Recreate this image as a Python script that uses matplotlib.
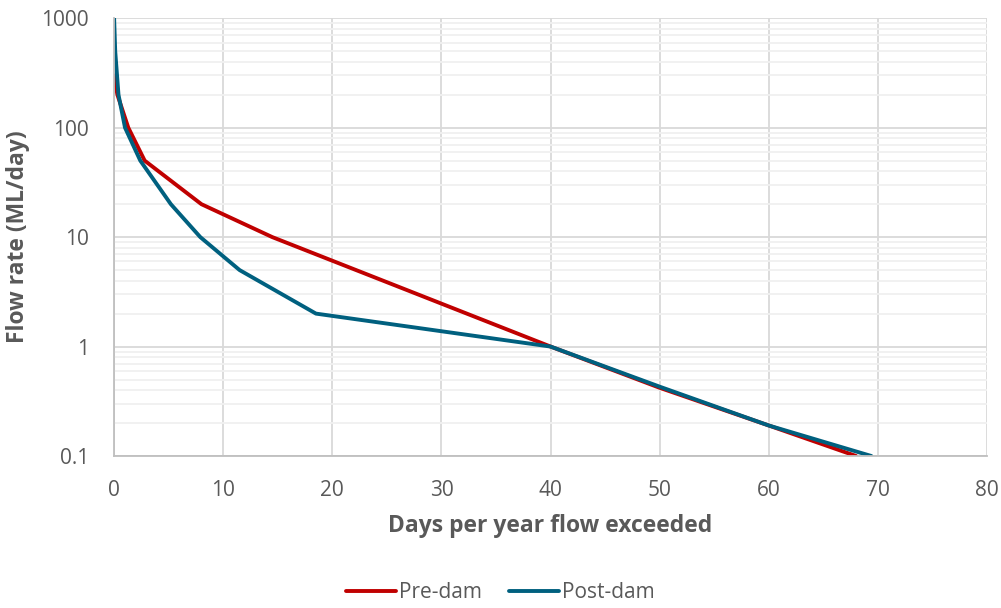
import matplotlib.pyplot as plt
from matplotlib.ticker import FixedLocator, NullFormatter

# Flow duration curves (days per year exceeded vs flow rate ML/day)
pre_days = [0.0, 0.3, 1.3, 2.8, 8.0, 14.5, 40.0, 50.0, 60.0, 68.0]
pre_flow = [300, 200, 100, 50, 20, 10, 1.0, 0.42, 0.19, 0.1]

post_days = [0.0, 0.1, 0.4, 1.0, 2.4, 5.2, 7.9, 11.5, 18.5, 40.0, 50.0, 60.0, 69.4]
post_flow = [1000, 500, 200, 100, 50, 20, 10, 5, 2, 1.0, 0.43, 0.19, 0.1]

x_ticks = [0, 10, 20, 30, 40, 50, 60, 70, 80]
y_ticks = [0.1, 1, 10, 100, 1000]
y_labels = ['0.1', '1', '10', '100', '1000']

plt.rcParams['font.family'] = ['Open Sans', 'DejaVu Sans']
text_col = '#595959'

fig = plt.figure(figsize=(10.01, 6.08), dpi=100)
ax = fig.add_axes([0.114, 0.25, 0.872, 0.72])

ax.plot(pre_days, pre_flow, color='#C00000', lw=2.8, label='Pre-dam', solid_capstyle='round')
ax.plot(post_days, post_flow, color='#00607F', lw=2.8, label='Post-dam', solid_capstyle='round')

ax.set_yscale('log')
ax.set_xlim(0, 80)
ax.set_ylim(0.1, 1000)
ax.set_xticks(x_ticks)
ax.set_yticks(y_ticks)
ax.set_yticklabels(y_labels)
minors = [m * 10.0 ** e for e in range(-1, 3) for m in range(2, 10)]
ax.yaxis.set_minor_locator(FixedLocator(minors))
ax.yaxis.set_minor_formatter(NullFormatter())

ax.grid(which='major', color='#d9d9d9', lw=1.3)
ax.grid(which='minor', axis='y', color='#f0f0f0', lw=1.3)
ax.set_axisbelow(True)

for s in ['top', 'right']:
    ax.spines[s].set_visible(False)
for s in ['left', 'bottom']:
    ax.spines[s].set_color('#bfbfbf')
    ax.spines[s].set_linewidth(1.3)

ax.tick_params(which='both', length=0, labelsize=15, labelcolor=text_col)
ax.tick_params(axis='x', pad=17)
ax.tick_params(axis='y', pad=18)

ax.set_xlabel('Days per year flow exceeded', fontsize=16.5, fontweight='bold', color=text_col, labelpad=10)
ax.set_ylabel('Flow rate (ML/day)', fontsize=16.5, fontweight='bold', color=text_col, labelpad=8)

leg = fig.legend(loc='center', bbox_to_anchor=(0.5, 0.025), ncol=2, frameon=False,
                 fontsize=15, handlelength=2.4, columnspacing=1.3, handletextpad=0.15)
for t in leg.get_texts():
    t.set_color(text_col)

plt.savefig('out.png', dpi=100)
